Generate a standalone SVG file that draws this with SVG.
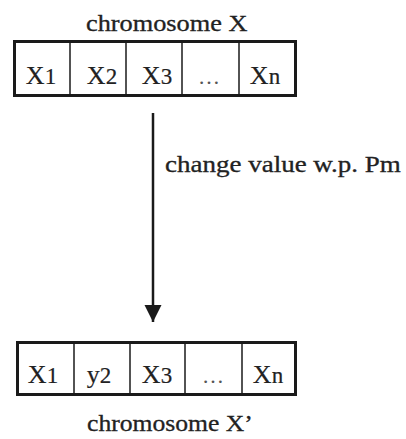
<svg xmlns="http://www.w3.org/2000/svg" width="406" height="439" viewBox="0 0 406 439">
  <style>
    .frame { fill: #fff; stroke: #1a1a1a; stroke-width: 3; }
    .div { stroke: #1a1a1a; stroke-width: 1.5; }
    .lbl { font-family: "Liberation Serif", "Times New Roman", serif; font-size: 22.5px; fill: #222; stroke: #222; stroke-width: 0.3; }
    .cell { font-family: "Liberation Serif", "Times New Roman", serif; font-size: 26px; fill: #222; stroke: #222; stroke-width: 0.2; text-anchor: middle; }
    .sub { font-size: 23px; }
    .dots { font-family: "Liberation Serif", "Times New Roman", serif; font-size: 22px; fill: #555; text-anchor: middle; }
    .wire { stroke: #1a1a1a; stroke-width: 2.5; fill: none; }
  </style>
  <defs>
    <marker id="head" viewBox="0 0 10 10" refX="10" refY="5" markerWidth="7" markerHeight="7" markerUnits="strokeWidth" orient="auto">
      <path d="M0,0 L10,5 L0,10 z" fill="#1a1a1a"/>
    </marker>
  </defs>

  <!-- original chromosome -->
  <g id="chromosome-x">
    <text class="lbl" transform="translate(86,31) scale(1.17,1)">chromosome X</text>
    <rect class="frame" x="14.5" y="41.5" width="281" height="54"/>
    <line class="div" x1="70" y1="42" x2="70" y2="95"/>
    <line class="div" x1="126" y1="42" x2="126" y2="95"/>
    <line class="div" x1="182" y1="42" x2="182" y2="95"/>
    <line class="div" x1="239" y1="42" x2="239" y2="95"/>
    <text class="cell" x="41" y="84">X<tspan class="sub">1</tspan></text>
    <text class="cell" x="102" y="84">X<tspan class="sub">2</tspan></text>
    <text class="cell" x="157" y="84">X<tspan class="sub">3</tspan></text>
    <text class="dots" x="209" y="84">…</text>
    <text class="cell" x="265" y="84">X<tspan class="sub">n</tspan></text>
  </g>

  <!-- mutated chromosome -->
  <g id="chromosome-x-prime">
    <rect class="frame" x="17.5" y="342.5" width="278" height="52"/>
    <line class="div" x1="74" y1="343" x2="74" y2="394"/>
    <line class="div" x1="130" y1="343" x2="130" y2="394"/>
    <line class="div" x1="185" y1="343" x2="185" y2="394"/>
    <line class="div" x1="242" y1="343" x2="242" y2="394"/>
    <text class="cell" x="43" y="383">X<tspan class="sub">1</tspan></text>
    <text class="cell" x="99" y="383">y<tspan class="sub">2</tspan></text>
    <text class="cell" x="157" y="383">X<tspan class="sub">3</tspan></text>
    <text class="dots" x="213" y="383">…</text>
    <text class="cell" x="268" y="383">X<tspan class="sub">n</tspan></text>
    <text class="lbl" transform="translate(87,431) scale(1.14,1)">chromosome X’</text>
  </g>

  <!-- mutation step -->
  <g id="connectors">
    <line class="wire" x1="153" y1="113" x2="153" y2="322" marker-end="url(#head)"/>
    <text class="lbl" transform="translate(165,172) scale(1.2,1)">change value w.p. Pm</text>
  </g>
</svg>
